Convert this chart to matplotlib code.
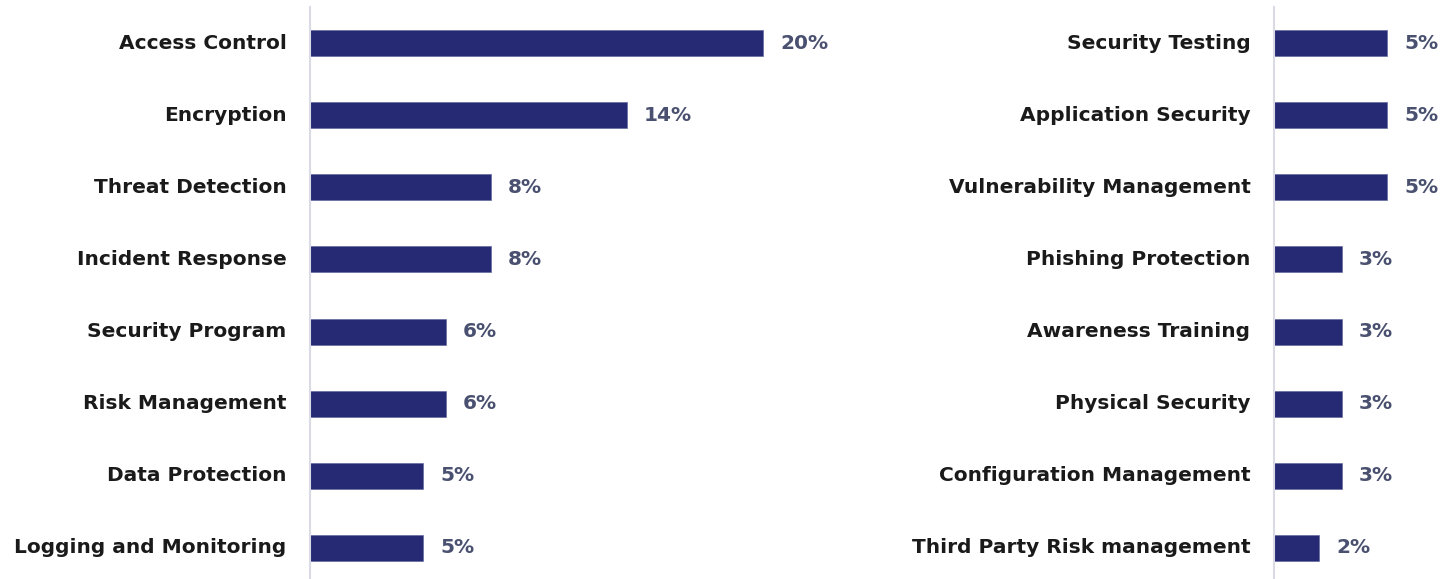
import matplotlib
matplotlib.use("Agg")
import matplotlib.pyplot as plt

left_categories = ["Access Control", "Encryption", "Threat Detection", "Incident Response",
                   "Security Program", "Risk Management", "Data Protection", "Logging and Monitoring"]
left_values = [20, 14, 8, 8, 6, 6, 5, 5]

right_categories = ["Security Testing", "Application Security", "Vulnerability Management",
                    "Phishing Protection", "Awareness Training", "Physical Security",
                    "Configuration Management", "Third Party Risk management"]
right_values = [5, 5, 5, 3, 3, 3, 3, 2]

BAR = "#262a75"
VAL = "#4a5170"
AXIS = "#d9dae5"
FONT = "DejaVu Sans"

W, H = 1441, 579
fig = plt.figure(figsize=(W / 100, H / 100), dpi=100)

PX_PER_PCT = 22.65
top_px, bottom_px = 7, 579

def make_axes(x0, x1, cats, vals):
    ax = fig.add_axes([x0 / W, 1 - bottom_px / H, (x1 - x0) / W, (bottom_px - top_px) / H])
    y = list(range(len(cats)))
    ax.barh(y, vals, height=0.36, color=BAR, edgecolor="#5a5f96", linewidth=0.4)
    ax.set_xlim(0, (x1 - x0) / PX_PER_PCT)
    ax.set_ylim(7.43, -0.5)
    ax.set_yticks(y)
    ax.set_yticklabels(cats, fontsize=14.5, fontweight="bold", color="#1a1a1a", family=FONT,
                       va="center")
    ax.tick_params(axis="y", length=0, pad=17)
    ax.set_xticks([])
    for s in ["top", "right", "bottom"]:
        ax.spines[s].set_visible(False)
    ax.spines["left"].set_color(AXIS)
    ax.spines["left"].set_linewidth(1.5)
    for yi, v in zip(y, vals):
        ax.annotate(f"{v}%", (v, yi), xytext=(17, 0), textcoords="offset pixels",
                    va="center", ha="left", fontsize=14.5, fontweight="bold",
                    color=VAL, family=FONT)
    return ax

make_axes(310, 900, left_categories, left_values)
make_axes(1274, 1441, right_categories, right_values)

fig.savefig("out.png", dpi=100, facecolor="white")
